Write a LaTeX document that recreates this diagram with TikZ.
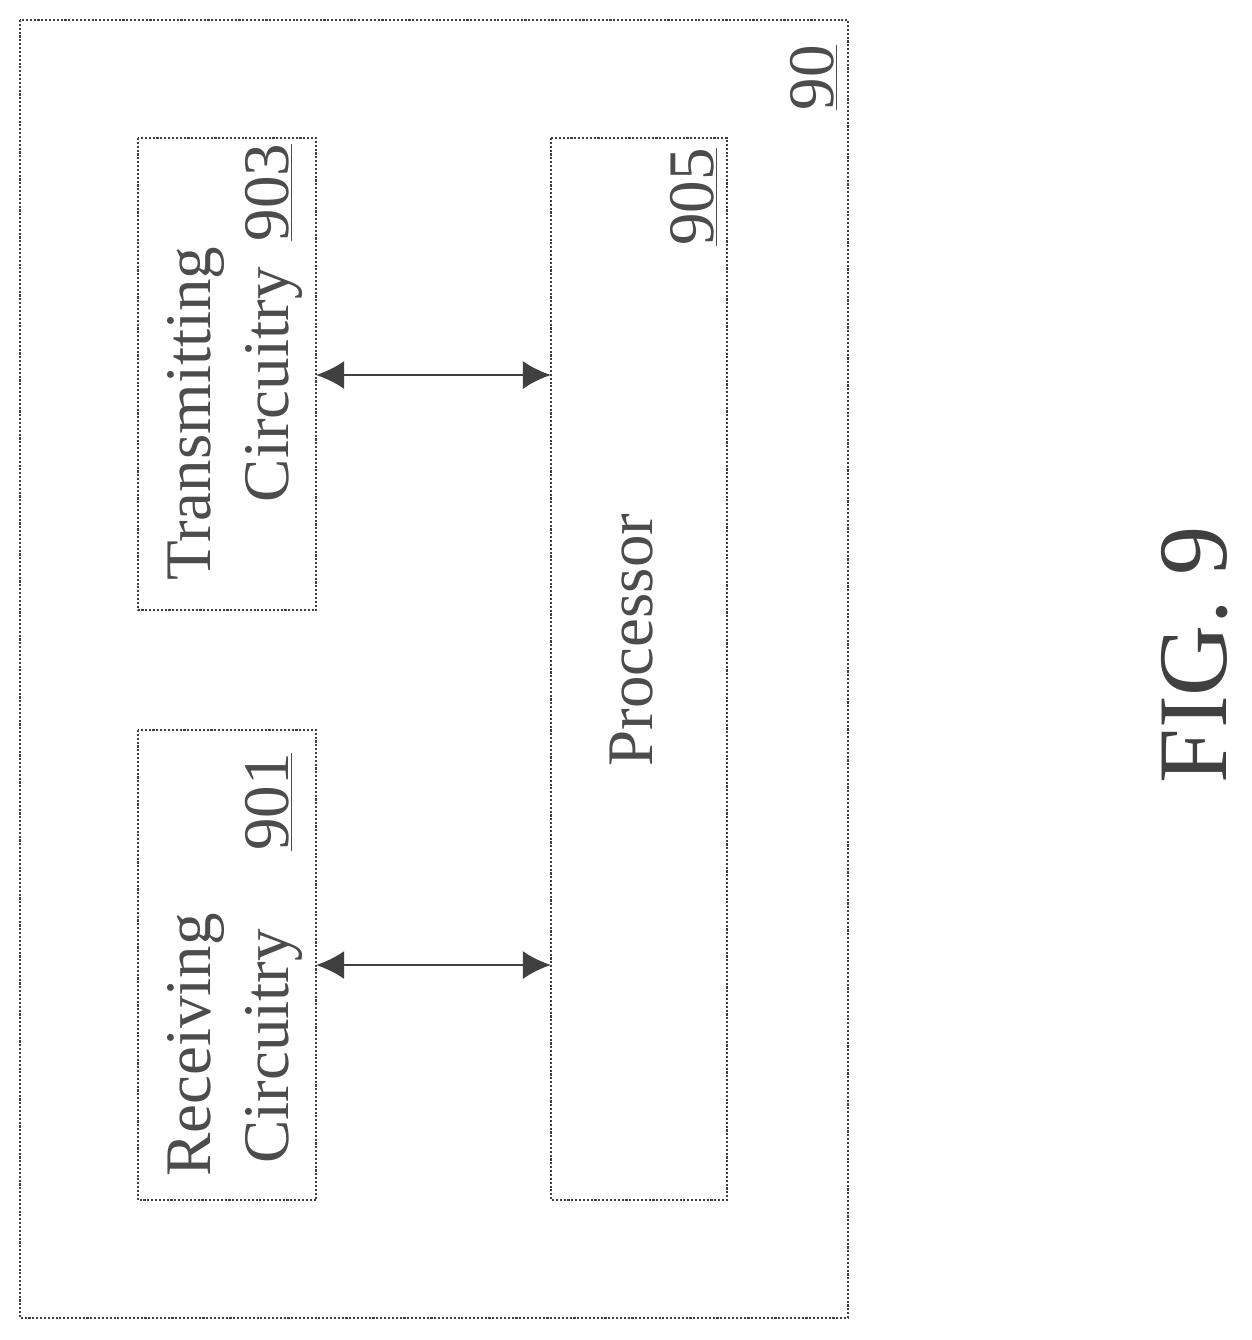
\documentclass[tikz,border=0pt]{standalone}
\usepackage{fontspec}
\setmainfont{Liberation Serif}
\usetikzlibrary{arrows.meta}
\begin{document}
\begin{tikzpicture}[x=0.02cm,y=-0.02cm,
  box/.style={draw=black!75,line width=1.2pt,densely dotted},
  lbl/.style={text=black!70,font=\fontsize{37}{44}\selectfont,rotate=90,align=left,inner sep=0pt},
  arr/.style={draw=black!75,line width=1.5pt,<->,>={Latex[length=16pt,width=16pt]}}]
\useasboundingbox (0,0) rectangle (1252,1340);
\draw[box] (20,20) rectangle (848,1318);
\draw[box] (138,138) rectangle (316,610);
\draw[box] (138,730) rectangle (316,1200);
\draw[box] (551,138) rectangle (727,1200);
\coordinate (txr) at (316,375); \coordinate (pt) at (551,375);
\coordinate (rxr) at (316,965); \coordinate (pr) at (551,965);
\draw[arr] (txr) -- (pt);
\draw[arr] (rxr) -- (pr);
\node[lbl] (tt) at (235,362) {Transmitting\\\hspace{1.2em}Circuitry\hspace{0.4em}\underline{903}};
\node[lbl] (rt) at (235,965) {Receiving\\\hspace{0.2em}Circuitry\hspace{1.2em}\underline{901}};
\node[lbl] (pp) at (632,640) {Processor};
\node[lbl,anchor=south east] (p5) at (718,148) {\underline{905}};
\node[lbl,anchor=south east] (n90) at (838,45) {\underline{90}};
\node[lbl,font=\fontsize{56}{64}\selectfont,text=black!75] (fig) at (1195,655) {FIG. 9};
\end{tikzpicture}
\end{document}
